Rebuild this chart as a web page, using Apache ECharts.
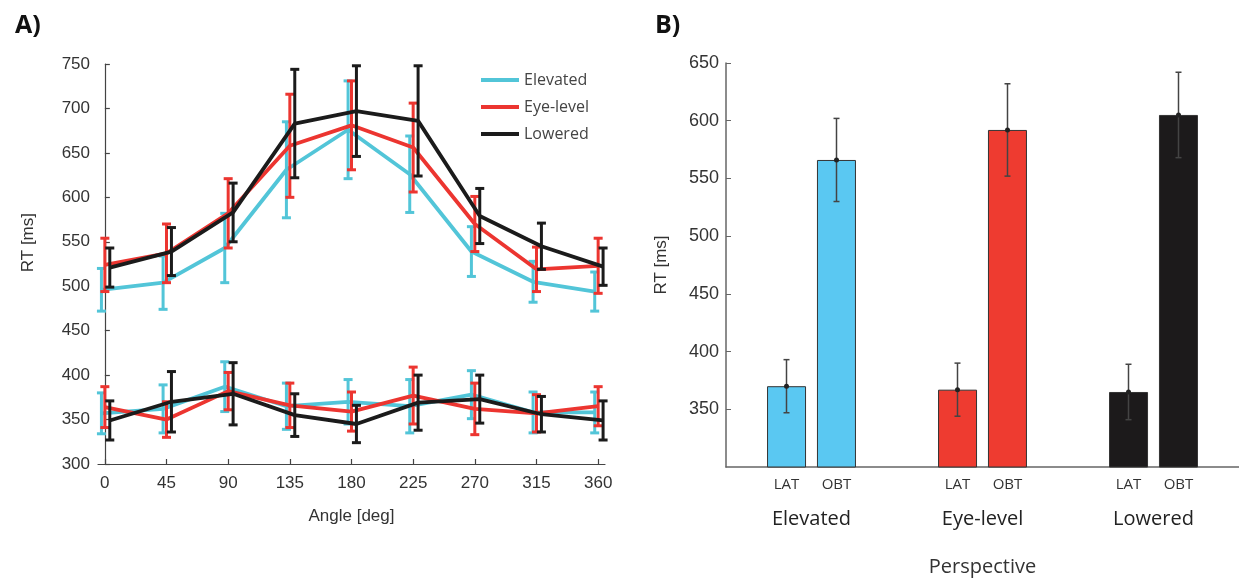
<!DOCTYPE html>
<html><head><meta charset="utf-8">
<script src="https://cdn.jsdelivr.net/npm/echarts@6/dist/echarts.min.js"></script>
<style>html,body{margin:0;padding:0;background:#fff}#c{width:1239px;height:582px}</style>
</head><body><div id="c"></div>
<script>
// ---- Panel A data ----
const angles = [0, 45, 90, 135, 180, 225, 270, 315, 360];
const angleTicks = ['0','45','90','135','180','225','270','315','360'];
const elevObtMean = [496, 504, 543, 631, 676, 626, 539, 505, 494];
const elevObtErr  = [24, 30, 39, 54, 55, 43, 28, 23, 22];
const eyeObtMean  = [524, 537, 582, 658, 681, 656, 570, 519, 523];
const eyeObtErr   = [30, 33, 39, 58, 50, 50, 31, 25, 31];
const lowObtMean  = [521, 539, 583, 683, 697, 686, 579, 545, 522];
const lowObtErr   = [22, 27, 33, 61, 51, 62, 31, 26, 21];
const elevLatMean = [357, 362, 387, 365, 370, 365, 378, 358, 358];
const elevLatErr  = [23, 27, 28, 26, 25, 30, 27, 23, 23];
const eyeLatMean  = [364, 350, 382, 366, 359, 377, 362, 357, 365];
const eyeLatErr   = [23, 20, 21, 25, 22, 32, 29, 21, 22];
const lowLatMean  = [349, 370, 379, 355, 345, 369, 373, 356, 349];
const lowLatErr   = [22, 34, 35, 24, 21, 31, 27, 20, 22];
// ---- Panel B data ----
const perspectives = ['Elevated', 'Eye-level', 'Lowered'];
const barLatMean = [370, 367, 365];
const barLatErr  = [23, 23, 24];
const barObtMean = [566, 592, 605];
const barObtErr  = [36, 40, 37];

const COLORS = {'Elevated': '#52c5d8', 'Eye-level': '#ec3530', 'Lowered': '#1b1b1b'};
const BAR_COLORS = ['#5ac8f2', '#ee3b30', '#1c1a1b'];
const DODGE = {'Elevated': -2.5, 'Eye-level': 0, 'Lowered': 3.6};
const ZL = {'Elevated': 2, 'Eye-level': 3, 'Lowered': 4};
const LABEL_FONT = 'Liberation Sans, Arial, sans-serif';
const TEXT_FONT = 'Open Sans, Noto Sans, sans-serif';

function lineSeries(name, means) {
  return {
    type: 'line', name, xAxisIndex: 0, yAxisIndex: 0, symbol: 'none', clip: false,
    data: angles.map((a, i) => [a + DODGE[name], means[i]]),
    lineStyle: {width: 3.8, color: COLORS[name]}, itemStyle: {color: COLORS[name]},
    z: ZL[name], animation: false
  };
}
function errSeries(name, means, errs) {
  return {
    type: 'custom', name, xAxisIndex: 0, yAxisIndex: 0, clip: false,
    data: angles.map((a, i) => [a + DODGE[name], means[i], errs[i]]),
    encode: {x: 0, y: 1}, itemStyle: {color: COLORS[name]}, z: ZL[name], animation: false,
    renderItem: (p, api) => {
      const x = api.value(0), m = api.value(1), e = api.value(2);
      const t = api.coord([x, m + e]), b = api.coord([x, m - e]);
      const w = 4.5;
      const st = {stroke: COLORS[name], lineWidth: 3};
      return {type: 'group', children: [
        {type: 'line', shape: {x1: t[0], y1: t[1], x2: b[0], y2: b[1]}, style: st},
        {type: 'line', shape: {x1: t[0] - w, y1: t[1], x2: t[0] + w, y2: t[1]}, style: st},
        {type: 'line', shape: {x1: b[0] - w, y1: b[1], x2: b[0] + w, y2: b[1]}, style: st}
      ]};
    }
  };
}
function barErrSeries(name, means, errs, off) {
  return {
    type: 'custom', name: name + ' err', xAxisIndex: 1, yAxisIndex: 1, z: 10, animation: false,
    data: means.map((m, i) => [i, m, errs[i]]),
    encode: {x: 0, y: 1},
    renderItem: (p, api) => {
      const i = api.value(0), m = api.value(1), e = api.value(2);
      const c = api.coord([i, m]), t = api.coord([i, m + e]), b = api.coord([i, m - e]);
      const x = c[0] + off;
      const st = {stroke: '#444', lineWidth: 1.5};
      return {type: 'group', children: [
        {type: 'line', shape: {x1: x, y1: t[1], x2: x, y2: b[1]}, style: st},
        {type: 'line', shape: {x1: x - 3, y1: t[1], x2: x + 3, y2: t[1]}, style: st},
        {type: 'line', shape: {x1: x - 3, y1: b[1], x2: x + 3, y2: b[1]}, style: st},
        {type: 'circle', shape: {cx: x, cy: c[1], r: 2.5}, style: {fill: '#222'}}
      ]};
    }
  };
}

const axisLineStyle = {color: '#444', width: 1.2};
const chart = echarts.init(document.getElementById('c'));
chart.setOption({
  animation: false,
  backgroundColor: '#fff',
  title: [
    {text: 'A)', left: 10, top: 8, textStyle: {fontSize: 25, fontWeight: 'bold', color: '#111', fontFamily: 'Open Sans, sans-serif'}},
    {text: 'B)', left: 650, top: 8, textStyle: {fontSize: 25, fontWeight: 'bold', color: '#111', fontFamily: 'Open Sans, sans-serif'}}
  ],
  legend: {
    data: [{name: 'Elevated'}, {name: 'Eye-level'}, {name: 'Lowered'}],
    icon: 'rect', itemWidth: 38, itemHeight: 4, orient: 'vertical',
    left: 476, top: 67, itemGap: 11,
    textStyle: {fontSize: 16, color: '#444', fontFamily: TEXT_FONT}
  },
  graphic: [
    {type: 'text', left: 20, top: 213, rotation: Math.PI / 2,
     style: {text: 'RT [ms]', fontSize: 17, fill: '#333', font: '17px Liberation Sans, Arial, sans-serif'}}
  ],
  grid: [
    {left: 98, top: 64, width: 507, height: 400, containLabel: false},
    {left: 726, top: 63, right: 0, height: 407, containLabel: false}
  ],
  xAxis: [
    {type: 'value', gridIndex: 0, min: -5, max: 365,
     axisLine: {lineStyle: axisLineStyle},
     axisTick: {inside: true, length: 5, lineStyle: axisLineStyle, customValues: angles},
     splitLine: {show: false},
     axisLabel: {color: '#333', fontSize: 17, margin: 11, fontFamily: LABEL_FONT, customValues: angles,
       formatter: v => angleTicks[angles.indexOf(v)] || ''},
     name: 'Angle [deg]', nameLocation: 'middle', nameGap: 44,
     nameTextStyle: {fontSize: 17, color: '#333', fontFamily: LABEL_FONT}},
    {type: 'category', gridIndex: 1, data: perspectives,
     axisLine: {lineStyle: {color: '#666', width: 1.5}},
     axisTick: {inside: true, length: 4, lineStyle: {color: '#666'}},
     axisLabel: {color: '#222', fontSize: 20, margin: 42, fontFamily: TEXT_FONT},
     name: 'Perspective', nameLocation: 'middle', nameGap: 90,
     nameTextStyle: {fontSize: 20, color: '#333', fontFamily: TEXT_FONT}}
  ],
  yAxis: [
    {type: 'value', gridIndex: 0, min: 300, max: 750, interval: 50,
     axisLine: {show: true, lineStyle: axisLineStyle}, axisTick: {show: true, inside: true, length: 5, lineStyle: axisLineStyle},
     splitLine: {show: false},
     axisLabel: {color: '#333', fontSize: 17, margin: 8, fontFamily: LABEL_FONT}},
    {type: 'value', gridIndex: 1, min: 300, max: 650, interval: 50,
     axisLine: {show: true, lineStyle: {color: '#666', width: 1.5}},
     axisTick: {show: true, inside: true, length: 5, lineStyle: {color: '#666'}},
     splitLine: {show: false},
     axisLabel: {color: '#333', fontSize: 18, margin: 7, fontFamily: LABEL_FONT, showMinLabel: false},
     name: 'RT [ms]', nameLocation: 'middle', nameGap: 56, nameRotate: 90,
     nameTextStyle: {fontSize: 17, color: '#333', fontFamily: LABEL_FONT}}
  ],
  series: [
    lineSeries('Elevated', elevObtMean),
    lineSeries('Eye-level', eyeObtMean),
    lineSeries('Lowered', lowObtMean),
    lineSeries('Elevated', elevLatMean),
    lineSeries('Eye-level', eyeLatMean),
    lineSeries('Lowered', lowLatMean),
    errSeries('Elevated', elevObtMean, elevObtErr),
    errSeries('Eye-level', eyeObtMean, eyeObtErr),
    errSeries('Lowered', lowObtMean, lowObtErr),
    errSeries('Elevated', elevLatMean, elevLatErr),
    errSeries('Eye-level', eyeLatMean, eyeLatErr),
    errSeries('Lowered', lowLatMean, lowLatErr),
    {type: 'bar', name: 'LAT', xAxisIndex: 1, yAxisIndex: 1, barWidth: 39, barGap: '28%',
     data: barLatMean.map((v, i) => ({value: v, itemStyle: {color: BAR_COLORS[i]}})),
     itemStyle: {borderColor: '#333', borderWidth: 1},
     label: {show: true, position: 'bottom', distance: 10, formatter: 'LAT', color: '#333', fontSize: 15, fontFamily: TEXT_FONT}},
    {type: 'bar', name: 'OBT', xAxisIndex: 1, yAxisIndex: 1, barWidth: 39, barGap: '28%',
     data: barObtMean.map((v, i) => ({value: v, itemStyle: {color: BAR_COLORS[i]}})),
     itemStyle: {borderColor: '#333', borderWidth: 1},
     label: {show: true, position: 'bottom', distance: 10, formatter: 'OBT', color: '#333', fontSize: 15, fontFamily: TEXT_FONT}},
    barErrSeries('LAT', barLatMean, barLatErr, -25),
    barErrSeries('OBT', barObtMean, barObtErr, 25)
  ]
});
</script></body></html>
